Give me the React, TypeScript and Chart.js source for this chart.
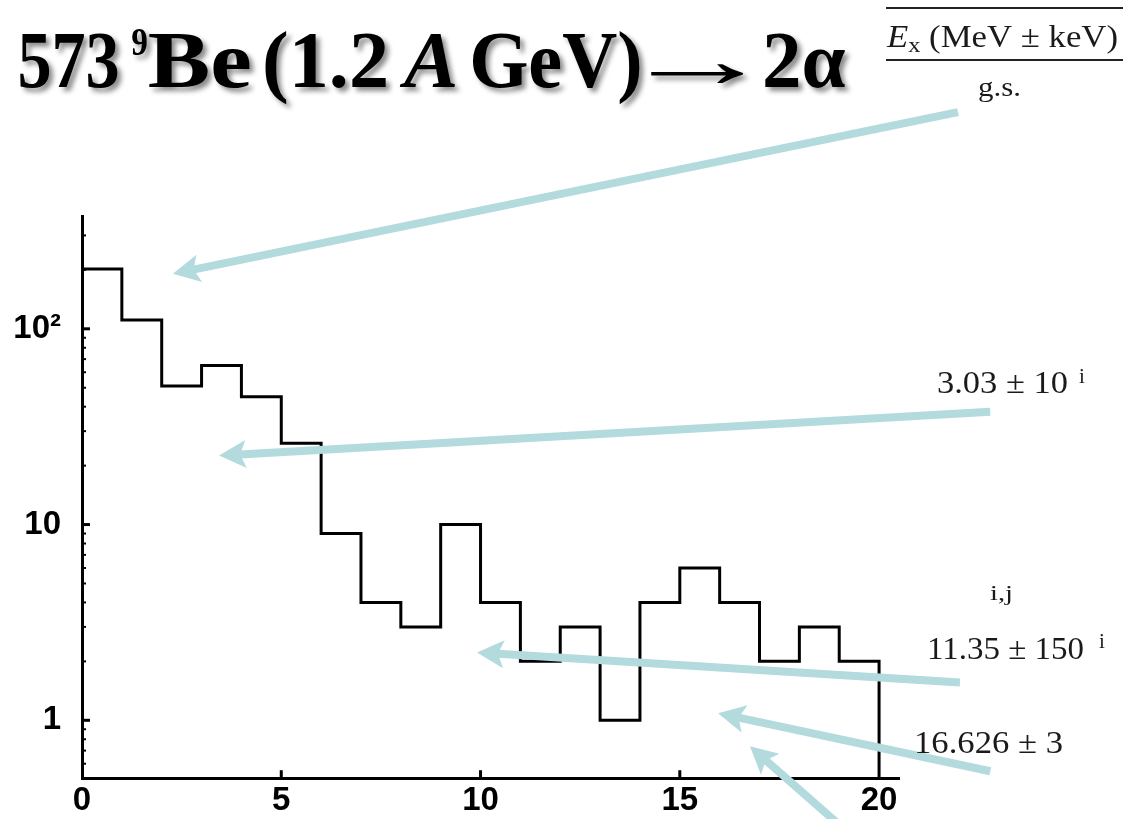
import React, { useEffect, useRef } from "react";
import { Chart, registerables } from "chart.js";

Chart.register(...registerables);

// ---------- data ----------
const BIN_STARTS = [0, 1, 2, 3, 4, 5, 6, 7, 8, 9, 10, 11, 12, 13, 14, 15, 16, 17, 18, 19];
const COUNTS = [202, 111, 51, 65, 45, 26, 9, 4, 3, 10, 4, 2, 3, 1, 4, 6, 4, 2, 3, 2];
const BIN_END = 20;

const X_MIN = 0;
const X_MAX = 20.5;
const Y_MIN = 0.506;
const Y_MAX = 377;

const X_TICKS = [0, 5, 10, 15, 20];
const X_TICK_LABELS = ["0", "5", "10", "15", "20"];
const Y_TICKS = [1, 10, 100];
const Y_TICK_LABELS = ["1", "10", "10²"];
const Y_MINOR_TICKS = [0.6, 0.7, 0.8, 0.9, 2, 3, 4, 5, 6, 7, 8, 9, 20, 30, 40, 50, 60, 70, 80, 90, 200, 300];
const X_INNER_TICKS = [5, 10, 15];

// arrows: tip and tail in data units (x: axis units, y: counts)
const ARROW_TIPS_X = [2.28, 3.44, 9.91, 15.96, 16.76];
const ARROW_TIPS_Y = [191, 22.5, 2.22, 1.086, 0.736];
const ARROW_TAILS_X = [21.98, 22.79, 22.03, 22.79, 19.27];
const ARROW_TAILS_Y = [1280, 37.7, 1.56, 0.549, 0.262];

// text
const TITLE_TEXTS = ["573", "9", "Be", "(1.2", "A", "GeV)", "→", "2α"];
const HEADER_TEXTS = ["E", "x", " (MeV ± keV)"];
const LEVEL_TEXTS = ["g.s.", "3.03 ± 10", "i,j", "11.35 ± 150", "16.626 ± 3"];
const SUP_TEXTS = ["i", "i"];

const SERIF = "'Liberation Serif', 'Times New Roman', serif";

// ink-fitted title layout: [style, size, baseline, inkLeft, inkRight]
const TITLE_LAYOUT: [string, number, number, number, number][] = [
  ["bold", 80, 87, 20, 118],
  ["bold", 40, 55, 132, 147],
  ["bold", 80, 87, 149, 250],
  ["bold", 80, 87, 265, 386],
  ["italic bold", 80, 87, 399, 456],
  ["bold", 80, 87, 472, 640],
  ["bold", 80, 87, 651, 744],
  ["bold", 80, 87, 765, 845],
];

function drawInkFit(
  ctx: CanvasRenderingContext2D,
  text: string,
  font: string,
  baseline: number,
  inkLeft: number,
  inkRight: number
) {
  ctx.save();
  ctx.font = font;
  ctx.textAlign = "left";
  ctx.textBaseline = "alphabetic";
  const m = ctx.measureText(text);
  const inkW = m.actualBoundingBoxLeft + m.actualBoundingBoxRight;
  const s = (inkRight - inkLeft) / inkW;
  ctx.translate(inkLeft, baseline);
  ctx.scale(s, 1);
  ctx.fillText(text, m.actualBoundingBoxLeft, 0);
  ctx.restore();
}

type Run = { text: string; style?: string; scale?: number; rise?: number };

function drawRuns(
  ctx: CanvasRenderingContext2D,
  runs: Run[],
  x: number,
  baseline: number,
  size: number,
  family: string,
  targetWidth: number | null
) {
  ctx.save();
  let total = 0;
  for (const r of runs) {
    const s = size * (r.scale ?? 1);
    ctx.font = `${r.style ?? "normal"} ${s}px ${family}`;
    total += ctx.measureText(r.text).width;
  }
  const sx = targetWidth ? targetWidth / total : 1;
  ctx.translate(x, baseline);
  ctx.scale(sx, 1);
  let cx = 0;
  for (const r of runs) {
    const s = size * (r.scale ?? 1);
    ctx.font = `${r.style ?? "normal"} ${s}px ${family}`;
    ctx.fillText(r.text, cx, -(r.rise ?? 0) * size);
    cx += ctx.measureText(r.text).width;
  }
  ctx.restore();
}

function drawArrow(ctx: CanvasRenderingContext2D, x1: number, y1: number, x2: number, y2: number) {
  const dx = x2 - x1;
  const dy = y2 - y1;
  const len = Math.hypot(dx, dy);
  const ux = dx / len;
  const uy = dy / len;
  const headLen = 27;
  const headHalf = 14;
  const notch = 21;
  ctx.save();
  ctx.strokeStyle = "#b3dadd";
  ctx.fillStyle = "#b3dadd";
  ctx.lineWidth = 8;
  ctx.lineCap = "butt";
  ctx.beginPath();
  ctx.moveTo(x1, y1);
  ctx.lineTo(x2 - ux * notch, y2 - uy * notch);
  ctx.stroke();
  const bx = x2 - ux * headLen;
  const by = y2 - uy * headLen;
  ctx.beginPath();
  ctx.moveTo(x2, y2);
  ctx.lineTo(bx - uy * headHalf, by + ux * headHalf);
  ctx.lineTo(x2 - ux * notch, y2 - uy * notch);
  ctx.lineTo(bx + uy * headHalf, by - ux * headHalf);
  ctx.closePath();
  ctx.fill();
  ctx.restore();
}

const annotationPlugin = {
  id: "annotations",
  afterDatasetsDraw(chart: any) {
    const ctx: CanvasRenderingContext2D = chart.ctx;
    const xs = chart.scales.x;
    const ys = chart.scales.y;
    const { left, bottom } = chart.chartArea;
    ctx.save();
    ctx.strokeStyle = "#000";
    ctx.lineCap = "butt";
    ctx.lineWidth = 3;
    for (const v of Y_TICKS) {
      const py = ys.getPixelForValue(v);
      ctx.beginPath();
      ctx.moveTo(left, py);
      ctx.lineTo(left + 8, py);
      ctx.stroke();
    }
    ctx.lineWidth = 2;
    for (const v of Y_MINOR_TICKS) {
      const py = ys.getPixelForValue(v);
      ctx.beginPath();
      ctx.moveTo(left, py);
      ctx.lineTo(left + 4, py);
      ctx.stroke();
    }
    ctx.lineWidth = 3;
    for (const v of X_INNER_TICKS) {
      const px = xs.getPixelForValue(v);
      ctx.beginPath();
      ctx.moveTo(px, bottom);
      ctx.lineTo(px, bottom - 8);
      ctx.stroke();
    }
    ctx.restore();
  },
  afterDraw(chart: any) {
    const ctx: CanvasRenderingContext2D = chart.ctx;
    const xs = chart.scales.x;
    const ys = chart.scales.y;

    // arrows
    for (let i = 0; i < ARROW_TIPS_X.length; i++) {
      drawArrow(
        ctx,
        xs.getPixelForValue(ARROW_TAILS_X[i]),
        ys.getPixelForValue(ARROW_TAILS_Y[i]),
        xs.getPixelForValue(ARROW_TIPS_X[i]),
        ys.getPixelForValue(ARROW_TIPS_Y[i])
      );
    }

    // title with shadow
    ctx.save();
    ctx.fillStyle = "#000";
    ctx.shadowColor = "rgba(0,0,0,0.45)";
    ctx.shadowOffsetX = 4;
    ctx.shadowOffsetY = 4;
    ctx.shadowBlur = 5;
    TITLE_TEXTS.forEach((t, i) => {
      const [style, size, base, l, r] = TITLE_LAYOUT[i];
      drawInkFit(ctx, t, `${style} ${size}px ${SERIF}`, base, l, r);
    });
    ctx.restore();

    // table header
    ctx.save();
    ctx.fillStyle = "#1a1a1a";
    ctx.textBaseline = "alphabetic";
    ctx.textAlign = "left";
    drawRuns(
      ctx,
      [
        { text: HEADER_TEXTS[0], style: "italic" },
        { text: HEADER_TEXTS[1], scale: 0.7, rise: -0.16 },
        { text: HEADER_TEXTS[2] },
      ],
      887,
      47,
      31,
      SERIF,
      231
    );
    ctx.strokeStyle = "#222";
    ctx.lineWidth = 2;
    ctx.beginPath();
    ctx.moveTo(886, 8);
    ctx.lineTo(1123, 8);
    ctx.moveTo(886, 60);
    ctx.lineTo(1123, 60);
    ctx.stroke();

    drawRuns(ctx, [{ text: LEVEL_TEXTS[0] }], 978, 96, 28, SERIF, 43);
    drawRuns(ctx, [{ text: LEVEL_TEXTS[1] }], 937, 393, 31, SERIF, 131);
    drawRuns(ctx, [{ text: SUP_TEXTS[0] }], 1079, 383, 21, SERIF, null);
    drawRuns(ctx, [{ text: LEVEL_TEXTS[2] }], 990, 600, 21, SERIF, 23);
    drawRuns(ctx, [{ text: LEVEL_TEXTS[3] }], 927, 659, 31, SERIF, 157);
    drawRuns(ctx, [{ text: SUP_TEXTS[1] }], 1099, 648, 21, SERIF, null);
    drawRuns(ctx, [{ text: LEVEL_TEXTS[4] }], 914, 753, 31, SERIF, 149);
    ctx.restore();
  },
};

export default function App() {
  const canvasRef = useRef<HTMLCanvasElement | null>(null);

  useEffect(() => {
    const canvas = canvasRef.current;
    if (!canvas) return;

    const points = [
      { x: BIN_STARTS[0], y: Y_MIN },
      ...BIN_STARTS.map((x, i) => ({ x, y: COUNTS[i] })),
      { x: BIN_END, y: COUNTS[COUNTS.length - 1] },
      { x: BIN_END, y: Y_MIN },
    ];

    const tickFont = { family: "'Liberation Sans', Arial, sans-serif", size: 33, weight: "bold" as const, lineHeight: 1.2 };

    const chart = new Chart(canvas, {
      type: "line",
      data: {
        datasets: [
          {
            data: points,
            borderColor: "#000",
            borderWidth: 3,
            pointRadius: 0,
            stepped: "before",
            fill: false,
            tension: 0,
            borderJoinStyle: "miter",
            borderCapStyle: "butt",
          },
        ],
      },
      options: {
        animation: false,
        responsive: false,
        devicePixelRatio: 1,
        layout: { padding: { left: 0, top: 216, right: 224, bottom: 0 } },
        plugins: {
          legend: { display: false },
          tooltip: { enabled: false },
          title: { display: false },
        },
        scales: {
          x: {
            type: "linear",
            min: X_MIN,
            max: X_MAX,
            bounds: "data",
            afterBuildTicks: (s: any) => {
              s.ticks = X_TICKS.map((v) => ({ value: v }));
            },
            afterFit: (s: any) => {
              s.height = 40;
            },
            ticks: {
              autoSkip: false,
              maxRotation: 0,
              minRotation: 0,
              padding: 3,
              color: "#000",
              font: tickFont,
              callback: (_v: any, i: number) => X_TICK_LABELS[i],
            },
            grid: { display: true, drawOnChartArea: false, drawTicks: false },
            border: { display: true, color: "#000", width: 3 },
          },
          y: {
            type: "logarithmic",
            min: Y_MIN,
            max: Y_MAX,
            bounds: "data",
            afterBuildTicks: (s: any) => {
              s.ticks = Y_TICKS.map((v) => ({ value: v, major: true }));
            },
            afterFit: (s: any) => {
              s.width = 82;
            },
            ticks: {
              autoSkip: false,
              padding: 21,
              color: "#000",
              font: tickFont,
              callback: (_v: any, i: number) => Y_TICK_LABELS[i],
            },
            grid: { display: true, drawOnChartArea: false, drawTicks: false },
            border: { display: true, color: "#000", width: 3 },
          },
        },
      },
      plugins: [annotationPlugin],
    } as any);

    return () => chart.destroy();
  }, []);

  return (
    <div style={{ position: "absolute", left: 0, top: 0, width: 1123, height: 819, background: "#fff" }}>
      <canvas ref={canvasRef} width={1123} height={819} style={{ width: 1123, height: 819, display: "block" }} />
    </div>
  );
}
